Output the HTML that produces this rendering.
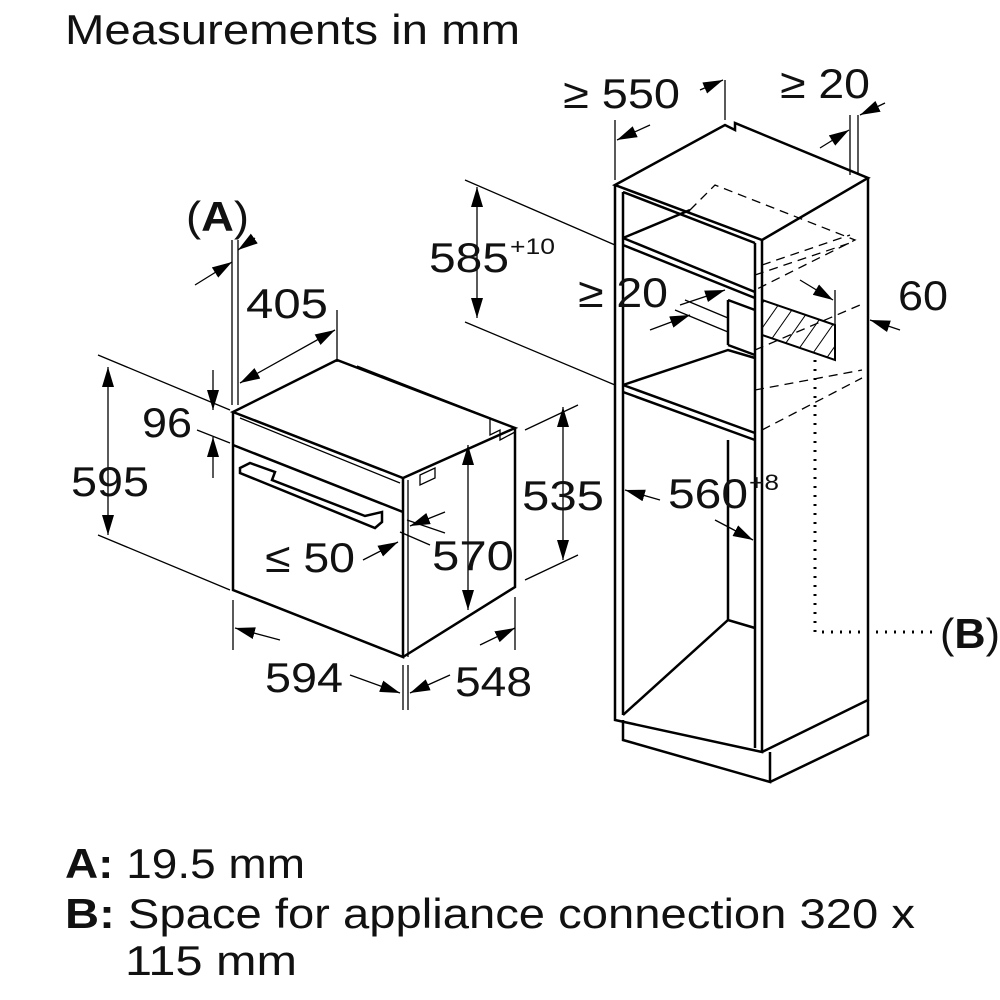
<!DOCTYPE html>
<html><head><meta charset="utf-8"><style>
html,body{margin:0;padding:0;background:#fff}
svg{display:block}
text{font-family:"Liberation Sans",sans-serif;fill:#111}
</style></head><body>
<svg width="1000" height="1000" viewBox="0 0 1000 1000" xmlns="http://www.w3.org/2000/svg">
<defs>
<marker id="a" viewBox="0 0 20 12" refX="20" refY="6" markerWidth="20" markerHeight="12" orient="auto-start-reverse" markerUnits="userSpaceOnUse">
<path d="M0,0 L20,6 L0,12 z" fill="#000"/></marker>
<pattern id="h" width="14" height="14" patternUnits="userSpaceOnUse" patternTransform="rotate(35)">
<line x1="0" y1="0" x2="0" y2="14" stroke="#000" stroke-width="2"/></pattern>
</defs>
<style>.l{stroke:#000;stroke-width:2.5;fill:none}.t{stroke:#000;stroke-width:1.3;fill:none}.d{stroke:#000;stroke-width:1.3;fill:none;marker-start:url(#a);marker-end:url(#a)}
.s{stroke:#000;stroke-width:1.3;fill:none;marker-end:url(#a)}
</style>
<g>
<text x="65" y="44" font-size="42" textLength="455" lengthAdjust="spacingAndGlyphs">Measurements in mm</text>

<path class="l" d="M233,412 L337,360 L515,428 L403,478 L233,412 Z"/>
<path class="l" d="M233,412 L233,590 L403,657 L403,478"/>
<path class="l" d="M403,657 L515,587 L515,428"/>
<path class="l" d="M233,445 L403,512"/>
<path class="t" d="M240,418 L400,483"/>
<path class="t" d="M357,366 L490,418 L490,435 L500,430 L500,440 L515,432"/>
<path class="l" d="M240,468 L250,463 L275,472 L272,480 L365,516 L382,512 L382,522 L375,528 L240,473 Z"/>
<path class="t" d="M420,475 L435,468 L435,478 L420,485 Z"/>
<path class="t" d="M408,480 L408,657"/>

<path class="t" d="M232,240 L232,405 M238,240 L238,405"/>
<path class="s" d="M195,285 L232,262"/>
<path class="s" d="M255,238 L238,250"/>
<text x="186" y="231" font-size="42" textLength="63" lengthAdjust="spacingAndGlyphs">(<tspan font-weight="bold">A</tspan>)</text>
<path class="t" d="M337,310 L337,362"/>
<path class="d" d="M240,383 L335,330"/>
<text x="246" y="318" font-size="42" textLength="82" lengthAdjust="spacingAndGlyphs">405</text>
<path class="t" d="M98,355 L230,410 M197,430 L230,443 M98,535 L230,590"/>
<path class="s" d="M213,370 L213,410"/>
<path class="s" d="M213,478 L213,437"/>
<text x="142" y="437" font-size="42" textLength="50" lengthAdjust="spacingAndGlyphs">96</text>
<path class="d" d="M108,367 L108,535"/>
<text x="71" y="496" font-size="42" textLength="78" lengthAdjust="spacingAndGlyphs">595</text>
<path class="t" d="M525,430 L578,405 M525,580 L578,555"/>
<path class="d" d="M563,407 L563,560"/>
<text x="522" y="510" font-size="42" textLength="82" lengthAdjust="spacingAndGlyphs">535</text>
<path class="d" d="M468,445 L468,610"/>
<text x="432" y="570" font-size="42" textLength="82" lengthAdjust="spacingAndGlyphs">570</text>
<path class="t" d="M407,520 L445,533 M400,532 L430,545"/>
<path class="s" d="M445,512 L410,526"/>
<path class="s" d="M363,560 L398,542"/>
<text x="265" y="572" font-size="42" textLength="90" lengthAdjust="spacingAndGlyphs">≤ 50</text>
<path class="t" d="M233,600 L233,650 M403,665 L403,710 M408,665 L408,710 M515,597 L515,650"/>
<path class="s" d="M280,640 L235,628"/>
<path class="s" d="M350,675 L400,693"/>
<text x="265" y="692" font-size="42" textLength="78" lengthAdjust="spacingAndGlyphs">594</text>
<path class="s" d="M450,675 L410,693"/>
<path class="s" d="M480,645 L515,628"/>
<text x="455" y="696" font-size="42" textLength="77" lengthAdjust="spacingAndGlyphs">548</text>

<path class="l" d="M615,185 L725,125 L735,130 L735,123 L868,178 L762,240 L615,185 Z"/>
<path class="l" d="M615,185 L615,720 L762,752 L762,240"/>
<path class="l" d="M623,192 L623,715 M755,243 L755,748"/>
<path class="l" d="M762,752 L868,700 L868,178"/>
<path class="l" d="M623,720 L623,740 L770,782 L770,752 M770,782 L868,735 L868,700"/>
<path class="l" d="M623,192 L755,243"/>
<path class="l" d="M623,238 L755,292 M623,245 L755,298"/>
<path class="l" d="M623,238 L690,210"/>
<path class="l" d="M623,385 L755,433 M623,392 L755,440"/>
<path class="l" d="M623,385 L728,350 L755,358"/>
<path class="l" d="M728,300 L728,345 M728,300 L755,310 M728,345 L755,355"/>
<path class="l" d="M728,440 L728,620"/>
<path class="l" d="M623,715 L728,620 L755,628"/>
<path class="t" stroke-dasharray="9,6" d="M690,210 L715,185 L855,240 L755,290 M755,275 L850,243 M755,350 L860,305 M755,390 L862,370 M762,430 L862,378 M762,265 L850,235"/>
<path d="M762,300 L835,325 L835,360 L762,335 Z" fill="url(#h)" stroke="#000" stroke-width="2"/>
<path class="t" d="M835,290 L835,328"/>
<path class="s" d="M800,280 L833,300"/>
<path class="s" d="M900,330 L870,320"/>
<text x="898" y="310" font-size="42" textLength="50" lengthAdjust="spacingAndGlyphs">60</text>
<path d="M815,360 L815,632 L935,632" fill="none" stroke="#000" stroke-width="3" stroke-dasharray="2,7"/>
<text x="940" y="648" font-size="42" textLength="60" lengthAdjust="spacingAndGlyphs">(<tspan font-weight="bold">B</tspan>)</text>
<path class="t" d="M615,120 L615,180 M725,80 L725,120 M850,115 L850,175 M858,115 L858,175"/>
<path class="s" d="M650,125 L617,140"/>
<path class="s" d="M700,90 L723,80"/>
<text x="563" y="108" font-size="42" textLength="117" lengthAdjust="spacingAndGlyphs">≥ 550</text>
<path class="s" d="M820,148 L849,130"/>
<path class="s" d="M885,103 L860,115"/>
<text x="780" y="98" font-size="42" textLength="90" lengthAdjust="spacingAndGlyphs">≥ 20</text>
<path class="t" d="M465,180 L615,245 M465,322 L615,385"/>
<path class="d" d="M477,187 L477,318"/>
<text x="429" y="272" font-size="42" textLength="80" lengthAdjust="spacingAndGlyphs">585</text>
<text x="510" y="254" font-size="22" textLength="45" lengthAdjust="spacingAndGlyphs">+10</text>
<path class="t" d="M685,300 L728,318 M675,310 L728,332"/>
<path class="s" d="M680,305 L725,290"/>
<path class="s" d="M650,330 L690,315"/>
<text x="578" y="307" font-size="42" textLength="90" lengthAdjust="spacingAndGlyphs">≥ 20</text>
<path class="s" d="M660,500 L625,490"/>
<path class="s" d="M715,520 L753,540"/>
<text x="668" y="508" font-size="42" textLength="80" lengthAdjust="spacingAndGlyphs">560</text>
<text x="749" y="490" font-size="22" textLength="30" lengthAdjust="spacingAndGlyphs">+8</text>

<text x="65" y="878" font-size="42" textLength="240" lengthAdjust="spacingAndGlyphs"><tspan font-weight="bold">A:</tspan> 19.5 mm</text>
<text x="65" y="928" font-size="42" textLength="850" lengthAdjust="spacingAndGlyphs"><tspan font-weight="bold">B:</tspan> Space for appliance connection 320 x</text>
<text x="125" y="975" font-size="42" textLength="172" lengthAdjust="spacingAndGlyphs">115 mm</text>
</g>
</svg>
</body></html>
